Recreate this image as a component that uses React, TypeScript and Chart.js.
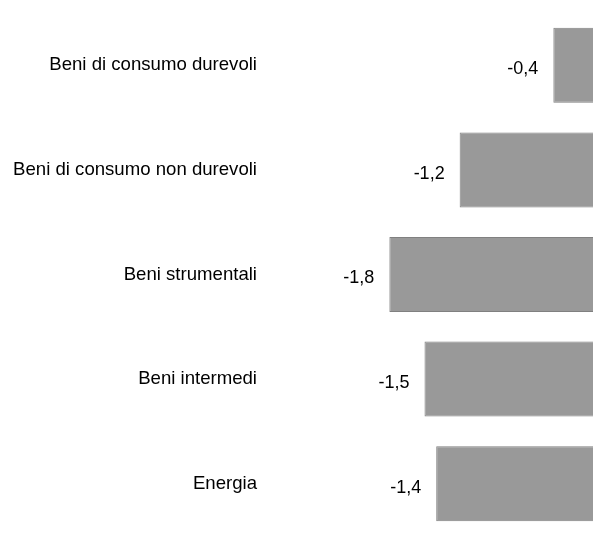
import React, { useEffect, useRef } from "react";
import { Chart, registerables } from "chart.js";

Chart.register(...registerables);

const categories = [
  "Beni di consumo durevoli",
  "Beni di consumo non durevoli",
  "Beni strumentali",
  "Beni intermedi",
  "Energia",
];
const values = [-0.4, -1.2, -1.8, -1.5, -1.4];

const FONT = '"Liberation Sans", Arial, sans-serif';

const valueLabels = {
  id: "valueLabels",
  afterDatasetsDraw(chart: any) {
    const ctx = chart.ctx;
    const meta = chart.getDatasetMeta(0);
    ctx.save();
    ctx.font = `18px ${FONT}`;
    ctx.fillStyle = "#000000";
    ctx.textAlign = "right";
    ctx.textBaseline = "middle";
    meta.data.forEach((bar: any, i: number) => {
      const v = chart.data.datasets[0].data[i] as number;
      const txt = v.toFixed(1).replace(".", ",");
      ctx.fillText(txt, bar.x - 15, bar.y + 4);
    });
    ctx.restore();
  },
};

export default function App() {
  const ref = useRef<HTMLCanvasElement>(null);
  useEffect(() => {
    if (!ref.current) return;
    const chart = new Chart(ref.current, {
      type: "bar",
      data: {
        labels: categories,
        datasets: [
          {
            data: values,
            backgroundColor: "#999999",
            borderColor: "#808080",
            borderWidth: 1,
            categoryPercentage: 1,
            barPercentage: 0.717,
          },
        ],
      },
      options: {
        indexAxis: "y",
        animation: false,
        responsive: false,
        devicePixelRatio: 1,
        layout: { padding: { top: 13, bottom: 0, left: 0, right: 0 } },
        plugins: {
          legend: { display: false },
          tooltip: { enabled: false },
        },
        scales: {
          x: {
            display: false,
            min: -2.819,
            max: -0.0615,
          },
          y: {
            grid: { display: false, drawTicks: false },
            border: { display: false },
            ticks: {
              color: "#000000",
              font: { size: 18.6, family: FONT },
              padding: 13,
            },
            afterFit(scale: any) {
              scale.width = 270;
              scale.paddingTop = 0;
              scale.paddingBottom = 0;
            },
          },
        },
      },
      plugins: [valueLabels],
    });
    return () => chart.destroy();
  }, []);
  return (
    <div
      style={{
        position: "fixed",
        left: 0,
        top: 0,
        width: 593,
        height: 536,
        overflow: "hidden",
        background: "#ffffff",
      }}
    >
      <canvas ref={ref} width={593} height={536} style={{ width: 593, height: 536 }} />
    </div>
  );
}
